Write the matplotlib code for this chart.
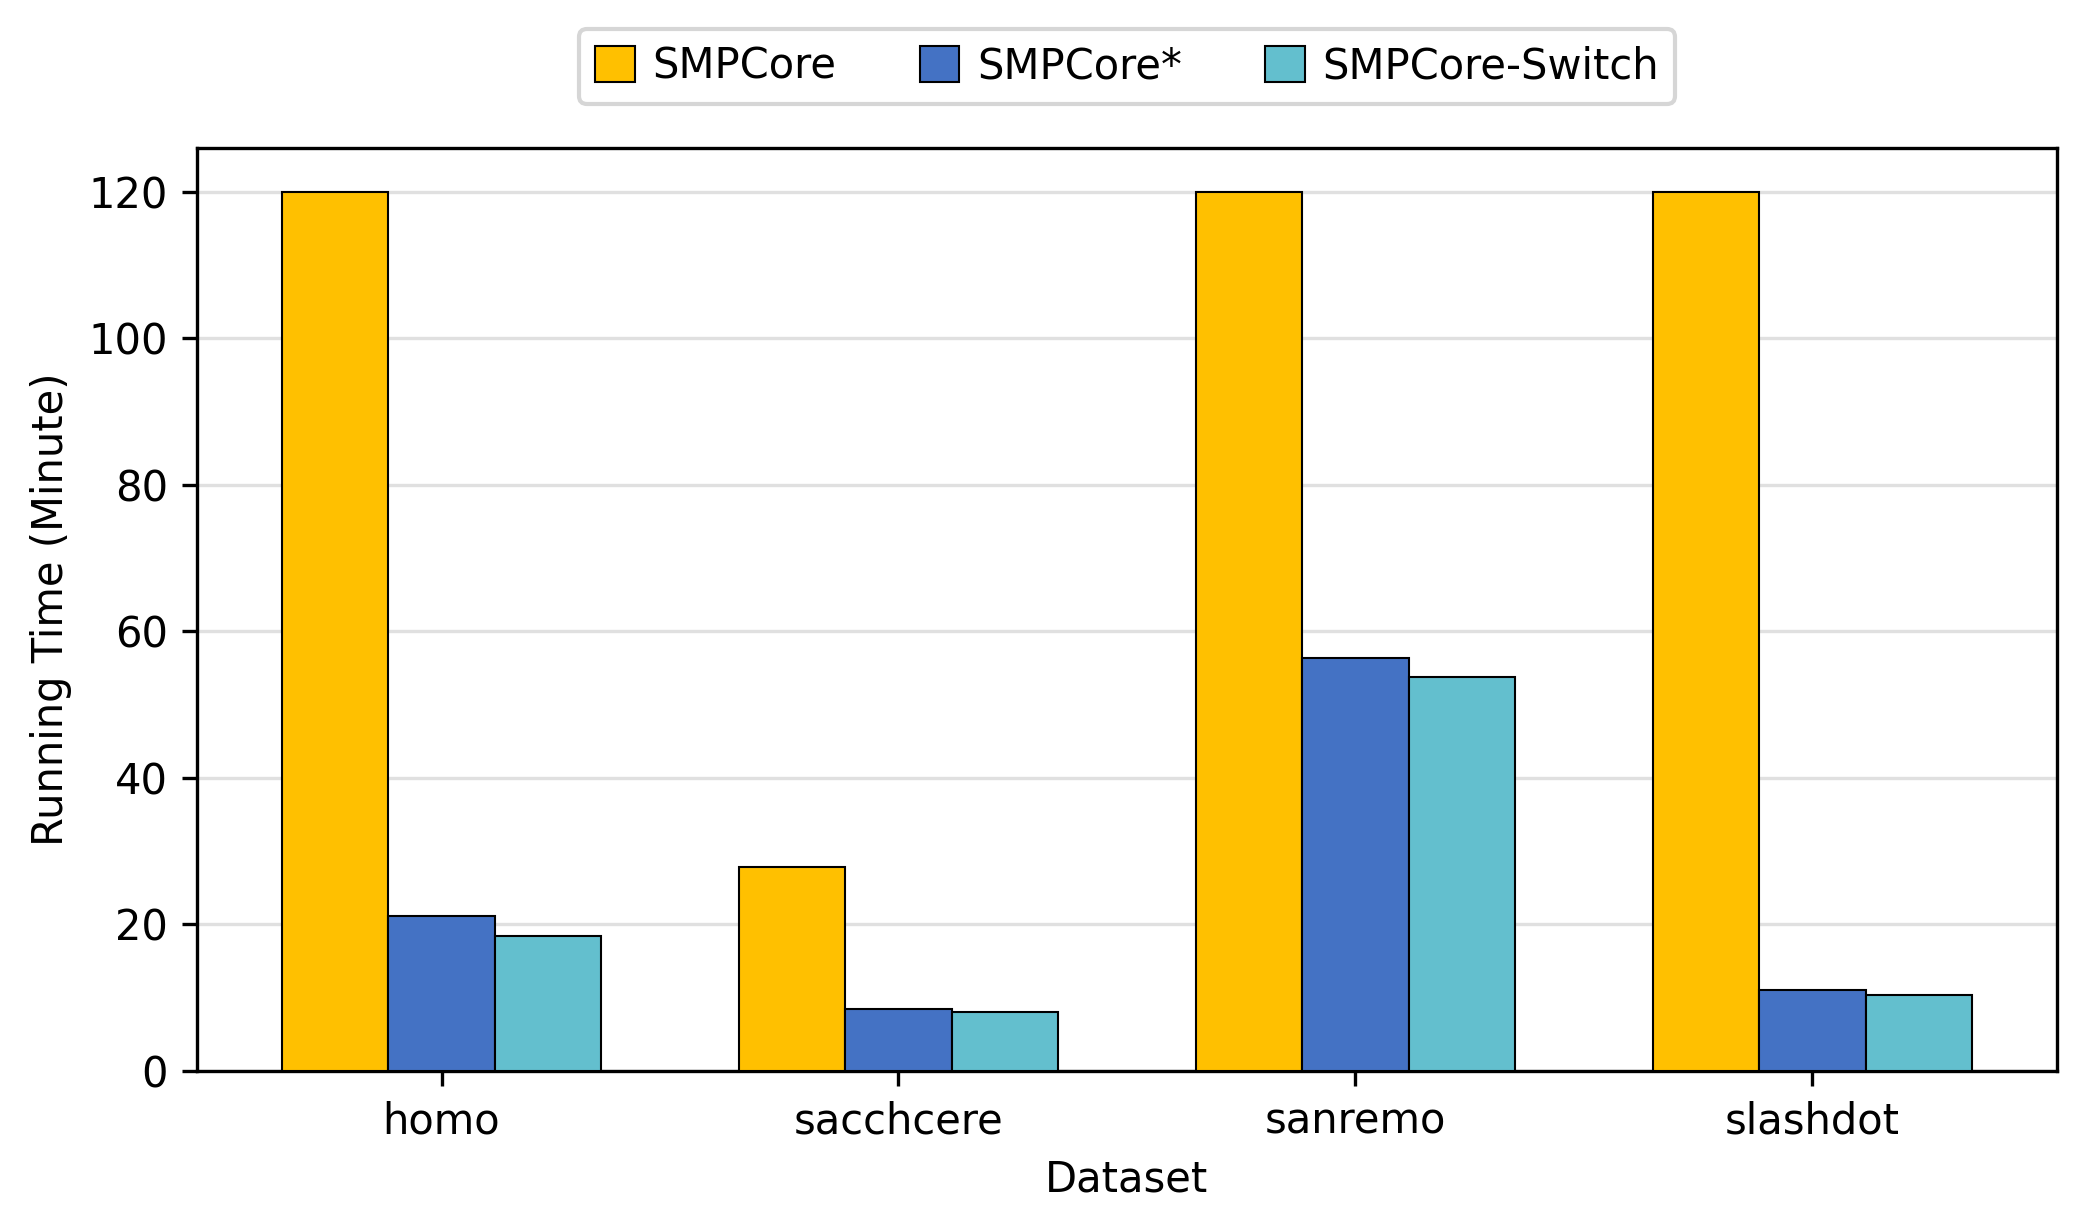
import matplotlib
matplotlib.use("Agg")
import matplotlib.pyplot as plt
import numpy as np

categories = ["homo", "sacchcere", "sanremo", "slashdot"]
series_names = ["SMPCore", "SMPCore*", "SMPCore-Switch"]
smpcore = [120, 27.9, 120, 120]
smpcore_star = [21.1, 8.5, 56.3, 11.0]
smpcore_switch = [18.4, 8.0, 53.8, 10.4]
colors = ["#FFC000", "#4472C4", "#63BFCE"]

fig = plt.figure(figsize=(2087/300, 1231/300), dpi=300)
ax = fig.add_axes([0.0944, 0.130, 0.9856-0.0944, 0.880-0.130])

x = np.arange(len(categories))
w = 0.7/3
for i, (vals, name, c) in enumerate(zip([smpcore, smpcore_star, smpcore_switch], series_names, colors)):
    ax.bar(x + (i-1)*w, vals, w, color=c, edgecolor="black", linewidth=0.5, label=name, zorder=3)

ax.set_xticks(x)
ax.set_xticklabels(categories)
ax.set_ylim(0, 126)
ax.set_yticks([0, 20, 40, 60, 80, 100, 120])
ax.yaxis.grid(True, color="#e0e0e0", linewidth=0.8, zorder=0)
ax.set_axisbelow(True)
ax.set_xlabel("Dataset")
ax.set_ylabel("Running Time (Minute)")
for s in ax.spines.values():
    s.set_linewidth(0.8)

leg = ax.legend(loc="center", bbox_to_anchor=(0.5, 1.088), ncol=3, frameon=True,
                fancybox=True, edgecolor="#cccccc", columnspacing=2.0,
                handlelength=0.95, handleheight=0.95, handletextpad=0.42)
leg.get_frame().set_linewidth(1.0)

fig.savefig("out.png", dpi=300)
